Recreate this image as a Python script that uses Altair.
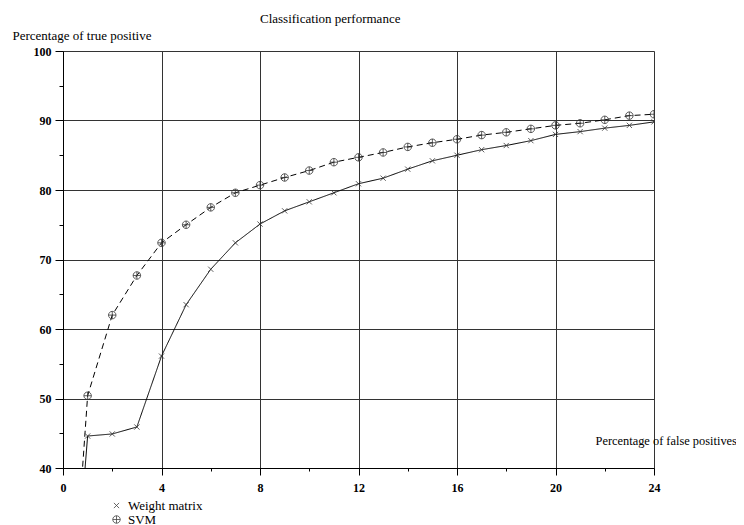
import altair as alt
import pandas as pd

# Data
fp = list(range(0, 25))
weight_matrix = [0, 44.6, 44.9, 45.9, 56.1, 63.5, 68.6, 72.4, 75.1, 77.0, 78.3, 79.6, 80.9,
                 81.7, 83.0, 84.2, 85.0, 85.8, 86.4, 87.1, 88.0, 88.4, 88.9, 89.3, 89.8]
svm = [0, 50.4, 62.0, 67.7, 72.4, 75.0, 77.5, 79.6, 80.7, 81.8, 82.8, 84.0, 84.7,
       85.4, 86.2, 86.8, 87.3, 87.9, 88.3, 88.8, 89.3, 89.6, 90.1, 90.7, 90.9]
series = ["Weight matrix", "SVM"]
line_styles = ["solid", "dashed"]
x_ticks = list(range(0, 25, 2))
y_ticks = list(range(40, 101, 5))

df = pd.DataFrame({
    "fp": fp + fp,
    "tp": weight_matrix + svm,
    "series": [series[0]] * len(fp) + [series[1]] * len(fp),
    "style": [line_styles[0]] * len(fp) + [line_styles[1]] * len(fp),
})

FONT = "Liberation Serif"
X_PATH = "M-0.7,-0.7L0.7,0.7M-0.7,0.7L0.7,-0.7"
OPLUS_PATH = "M-1,0A1,1,0,1,1,1,0A1,1,0,1,1,-1,0ZM-1,0L1,0M0,-1L0,1"

x_enc = alt.X(
    "fp:Q",
    scale=alt.Scale(domain=[0, 24], nice=False, zero=False),
    axis=alt.Axis(
        values=x_ticks,
        labelExpr="datum.value % 4 === 0 ? datum.label : ''",
        tickSize={"condition": {"test": "datum.value % 4 === 0", "value": 7}, "value": 3},
        gridOpacity={"condition": {"test": "datum.value % 4 === 0", "value": 1}, "value": 0},
        title="Percentage of false positives",
        titleX=532, titleY=-28, titleAlign="left", titleBaseline="middle",
        titleFont=FONT, titleFontSize=12.4, titleFontWeight="normal", titleColor="black",
        labelFont=FONT, labelFontSize=12, labelFontWeight="bold", labelColor="black",
        labelPadding=7, labelFlush=False,
        domainColor="black", tickColor="black", gridColor="#333", gridWidth=1,
    ),
)
y_enc = alt.Y(
    "tp:Q",
    scale=alt.Scale(domain=[40, 100], nice=False, zero=False),
    axis=alt.Axis(
        values=y_ticks,
        labelExpr="datum.value % 10 === 0 ? datum.label : ''",
        tickSize={"condition": {"test": "datum.value % 10 === 0", "value": 8}, "value": 4},
        gridOpacity={"condition": {"test": "datum.value % 10 === 0", "value": 1}, "value": 0},
        title="Percentage of true positive",
        titleAngle=0, titleX=-51, titleY=-12, titleAlign="left", titleBaseline="alphabetic",
        titleFont=FONT, titleFontSize=13, titleFontWeight="normal", titleColor="black",
        labelFont=FONT, labelFontSize=12, labelFontWeight="bold", labelColor="black",
        labelPadding=4, labelFlush=False,
        domainColor="black", tickColor="black", gridColor="#333", gridWidth=1,
    ),
)

base = alt.Chart(df)

lines = base.mark_line(clip=True, color="black", strokeWidth=1).encode(
    x=x_enc,
    y=y_enc,
    detail="series:N",
    strokeDash=alt.StrokeDash(
        "style:N",
        scale=alt.Scale(domain=line_styles, range=[[1, 0], [6, 4]]),
        legend=None,
    ),
)

points = base.mark_point(clip=True, filled=False, color="#333", strokeWidth=0.8,
                         opacity=1, size=56).encode(
    x=x_enc,
    y=y_enc,
    shape=alt.Shape(
        "series:N",
        scale=alt.Scale(domain=series, range=[X_PATH, OPLUS_PATH]),
        legend=alt.Legend(
            title=None, orient="none", legendX=47, legendY=448,
            labelFont=FONT, labelFontSize=13, labelColor="black", labelBaseline="middle",
            symbolStrokeColor="#444", symbolStrokeWidth=0.8, symbolSize=56,
            symbolFillColor="transparent",
            rowPadding=0, labelOffset=5, padding=0,
        ),
    ),
).transform_filter("datum.fp > 0")

chart = alt.layer(lines, points).properties(
    width=591,
    height=417,
    title=alt.TitleParams(
        "Classification performance",
        anchor="start", dx=197, dy=1, font=FONT, fontSize=13, fontWeight="normal", color="black",
        frame="group",
    ),
    autosize=alt.AutoSizeParams(type="none"),
    padding={"left": 55, "top": 43, "right": 82, "bottom": 58},
).configure_view(stroke="black", strokeWidth=1).configure(background="white")

chart.save("out.html", embed_options={"renderer": "svg", "actions": False})
